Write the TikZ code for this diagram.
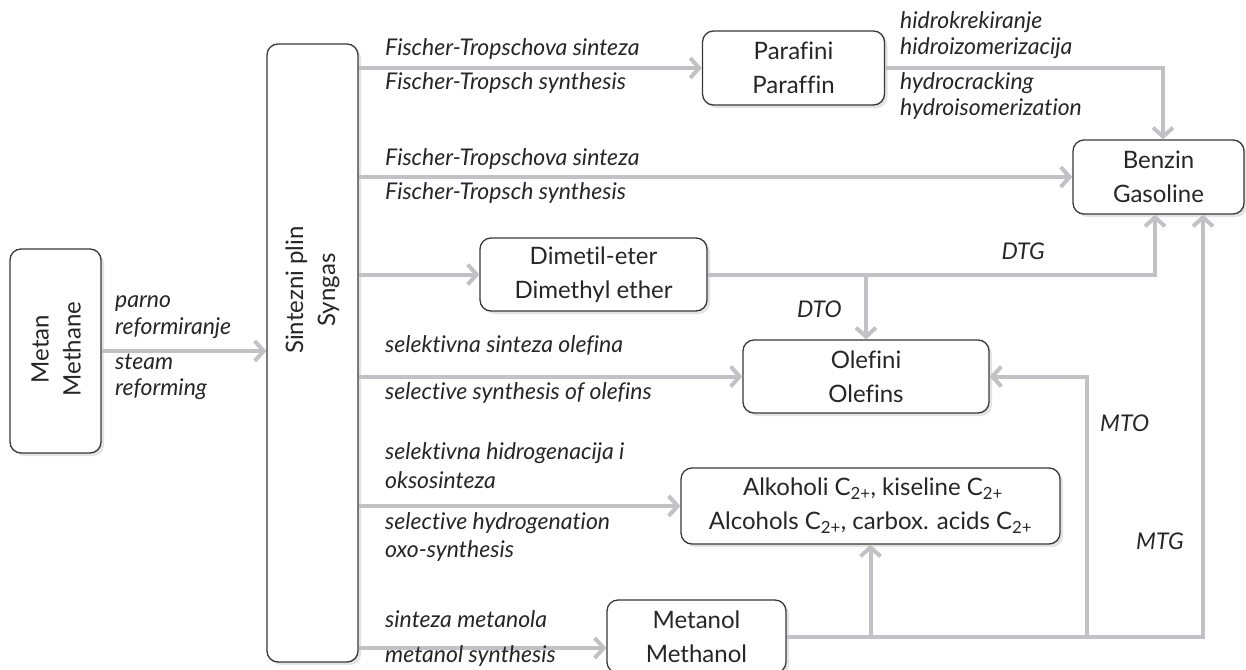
\documentclass[tikz,border=0pt]{standalone}
\usepackage{fontspec}
\setmainfont{Lato}[Ligatures={NoCommon,NoRare}]
\usetikzlibrary{arrows.meta,shadows,calc}
\definecolor{arr}{HTML}{C2C2C6}
\definecolor{txt}{HTML}{262626}
\definecolor{bord}{HTML}{383838}
\tikzset{
  shadowed/.style={drop shadow={shadow xshift=3pt, shadow yshift=-3pt, fill=black!22}},
  box/.style={draw=bord, line width=1.3pt, rounded corners=11pt, fill=white,
    inner sep=0pt, align=center, font=\fontsize{24}{34}\selectfont, text=txt, shadowed},
  boxtxt/.style={align=center, font=\fontsize{24}{32}\selectfont, text=txt, inner sep=0pt},
  lab/.style={anchor=mid west, font=\fontsize{23}{26}\selectfont\itshape, text=txt, inner sep=0pt},
  conn/.style={draw=arr, line width=4pt, -{Straight Barb[length=9pt,width=20pt]}}
}
\begin{document}
\begin{tikzpicture}[x=1pt,y=-1pt]
\path[use as bounding box] (0,0) rectangle (1246,669);

% boxes
\node[box, minimum width=91pt, minimum height=204pt] (met) at (55.5,351) {};
\node[boxtxt, rotate=90] (mettxt) at (56,349) {Metan\\Methane};
\node[box, minimum width=91pt, minimum height=618pt] (syn) at (312.5,353) {};
\node[boxtxt, rotate=90] (syntxt) at (312.5,290) {Sintezni plin\\Syngas};
\node[box, minimum width=182pt, minimum height=74pt] (par) at (793.5,68) {Parafini\\Paraffin};
\node[box, minimum width=171pt, minimum height=74pt] (ben) at (1158.5,177) {Benzin\\Gasoline};
\node[box, minimum width=227pt, minimum height=73pt] (dme) at (593.5,274.5) {Dimetil-eter\\Dimethyl ether};
\node[box, minimum width=246pt, minimum height=73pt] (ole) at (866,376.5) {Olefini\\Olefins};
\node[box, minimum width=379pt, minimum height=76pt] (alk) at (870.5,506) {\hspace*{5pt}Alkoholi C\textsubscript{2+}, kiseline C\textsubscript{2+}\\Alcohols C\textsubscript{2+}, carbox. acids C\textsubscript{2+}};
\node[box, minimum width=179pt, minimum height=73pt] (mol) at (696.5,636.5) {Metanol\\Methanol};

\coordinate (mtx) at (1087,0);
\coordinate (molin) at ([yshift=-11.5pt]mol.west);

% connectors
\draw[conn] (met.east) -- (syn.west |- met.east);
\draw[conn] (syn.east |- par.west) -- (par.west);
\draw[conn] (par.east) -| ([xshift=4.5pt]ben.north);
\draw[conn] (syn.east |- ben.west) -- (ben.west);
\draw[conn] (syn.east |- dme.west) -- (dme.west);
\draw[conn] (dme.east) -| ([xshift=-3.5pt]ben.south);
\draw[conn] (ole.north |- dme.east) -- (ole.north);
\draw[conn] (syn.east |- ole.west) -- (ole.west);
\draw[conn] (syn.east |- alk.west) -- (alk.west);
\draw[conn] (syn.east |- molin) -- (molin);
\draw[conn] (mol.east) -| ([xshift=44.5pt]ben.south);
\draw[conn] (mol.east -| mtx) |- (ole.east);
\draw[conn] (alk.south |- mol.east) -- (alk.south);

% labels
\node[lab] (l1) at (115,305) {parno};
\node[lab] (l2) at (115,332) {reformiranje};
\node[lab] (l3) at (115,367) {steam};
\node[lab] (l4) at (115,393) {reforming};

\node[lab] (a1) at (385,53) {Fischer-Tropschova sinteza};
\node[lab] (a2) at (385,87) {Fischer-Tropsch synthesis};
\node[lab] (b1) at (385,163) {Fischer-Tropschova sinteza};
\node[lab] (b2) at (385,197) {Fischer-Tropsch synthesis};
\node[lab] (c1) at (385,350) {selektivna sinteza olefina};
\node[lab] (c2) at (385,397) {selective synthesis of olefins};
\node[lab] (d1) at (385,457) {selektivna hidrogenacija i};
\node[lab] (d2) at (385,486) {oksosinteza};
\node[lab] (d3) at (385,527) {selective hydrogenation};
\node[lab] (d4) at (385,555) {oxo-synthesis};
\node[lab] (e1) at (385,625) {sinteza metanola};
\node[lab] (e2) at (385,660) {metanol synthesis};

\node[lab] (p1) at (900,26) {hidrokrekiranje};
\node[lab] (p2) at (900,52) {hidroizomerizacija};
\node[lab] (p3) at (900,87) {hydrocracking};
\node[lab] (p4) at (900,113) {hydroisomerization};

\node[lab, anchor=mid east] (dtg) at (1045,257) {DTG};
\node[lab] (dto) at (797,315) {DTO};
\node[lab] (mto) at (1100,429) {MTO};
\node[lab] (mtg) at (1136,547) {MTG};
\end{tikzpicture}
\end{document}
